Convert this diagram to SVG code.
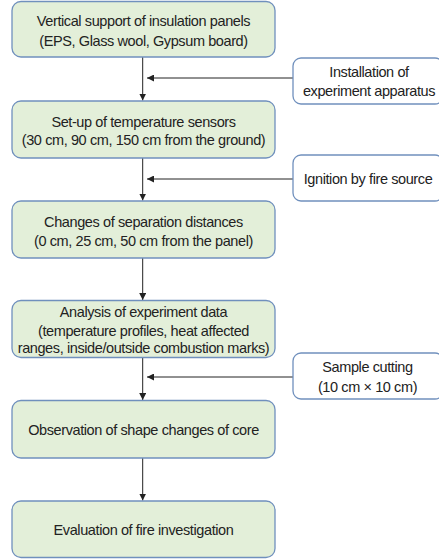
<svg xmlns="http://www.w3.org/2000/svg" width="439" height="559" viewBox="0 0 439 559">
<style>
.main{fill:#e3efd9;stroke:#7090bd;stroke-width:1.3}
.side{fill:#ffffff;stroke:#7090bd;stroke-width:1.3}
text{font-family:"Liberation Sans",Arial,sans-serif;font-size:14.5px;fill:#222;text-anchor:middle;letter-spacing:-0.4px}
.c{stroke:#222;stroke-width:1;fill:none}
</style>
<defs>
<marker id="ah" viewBox="0 0 10 10" refX="10" refY="5" markerWidth="7" markerHeight="7" orient="auto" markerUnits="userSpaceOnUse">
<path d="M0,0 L10,5 L0,10 z" fill="#222"/>
</marker>
</defs>
<g id="connectors">
<line class="c" x1="142.7" y1="57" x2="142.7" y2="100.5" marker-end="url(#ah)"/>
<line class="c" x1="293" y1="78" x2="147" y2="78" marker-end="url(#ah)"/>
<line class="c" x1="142.7" y1="158" x2="142.7" y2="200.5" marker-end="url(#ah)"/>
<line class="c" x1="293" y1="179" x2="147" y2="179" marker-end="url(#ah)"/>
<line class="c" x1="142.7" y1="258" x2="142.7" y2="300" marker-end="url(#ah)"/>
<line class="c" x1="142.7" y1="358" x2="142.7" y2="400" marker-end="url(#ah)"/>
<line class="c" x1="293" y1="377" x2="147" y2="377" marker-end="url(#ah)"/>
<line class="c" x1="142.7" y1="458" x2="142.7" y2="500.5" marker-end="url(#ah)"/>
</g>
<g id="n1"><rect class="main" x="12" y="1.5" width="263" height="55.5" rx="9"/>
<text x="143.5" y="25.5">Vertical support of insulation panels</text>
<text x="143.5" y="45.5">(EPS, Glass wool, Gypsum board)</text></g>
<g id="s1"><rect class="side" x="293" y="58" width="150" height="46" rx="8"/>
<text x="369" y="77">Installation of</text>
<text x="369" y="95.5">experiment apparatus</text></g>
<g id="n2"><rect class="main" x="12" y="101" width="263" height="57" rx="9"/>
<text x="143.5" y="127">Set-up of temperature sensors</text>
<text x="143.5" y="145">(30 cm, 90 cm, 150 cm from the ground)</text></g>
<g id="s2"><rect class="side" x="293" y="155" width="150" height="46" rx="8"/>
<text x="368" y="184">Ignition by fire source</text></g>
<g id="n3"><rect class="main" x="12" y="201" width="263" height="57" rx="9"/>
<text x="143.5" y="226.5">Changes of separation distances</text>
<text x="143.5" y="245.5">(0 cm, 25 cm, 50 cm from the panel)</text></g>
<g id="n4"><rect class="main" x="12" y="300.5" width="263" height="57" rx="9"/>
<text x="143.5" y="317">Analysis of experiment data</text>
<text x="143.5" y="335.5">(temperature profiles, heat affected</text>
<text x="143.5" y="353">ranges, inside/outside combustion marks)</text></g>
<g id="s3"><rect class="side" x="293" y="353" width="150" height="46" rx="8"/>
<text x="367.5" y="371.5">Sample cutting</text>
<text x="367.5" y="391.5">(10 cm × 10 cm)</text></g>
<g id="n5"><rect class="main" x="12" y="400.5" width="263" height="57.5" rx="9"/>
<text x="143.5" y="435">Observation of shape changes of core</text></g>
<g id="n6"><rect class="main" x="12" y="501" width="263" height="56.5" rx="9"/>
<text x="143.5" y="535">Evaluation of fire investigation</text></g>
</svg>
